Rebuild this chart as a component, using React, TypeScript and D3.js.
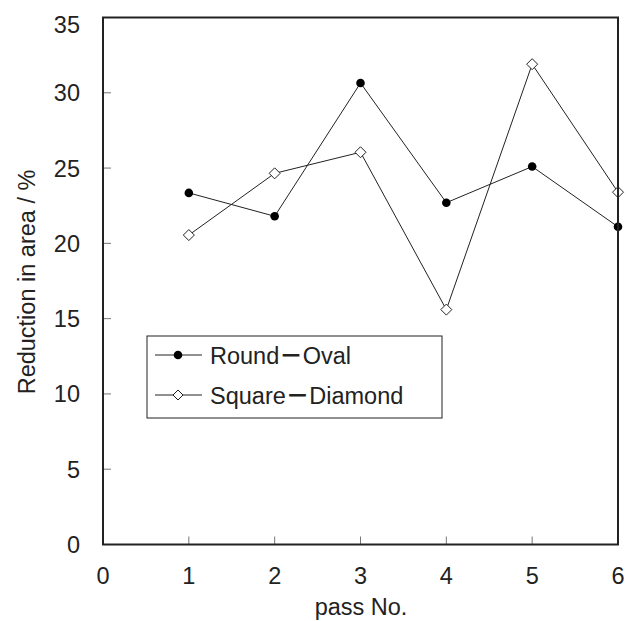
import React from 'react';
import * as d3 from 'd3';

// data
const passes = [1, 2, 3, 4, 5, 6];
const roundOval = [23.35, 21.8, 30.65, 22.7, 25.1, 21.1];
const squareDiamond = [20.55, 24.65, 26.05, 15.6, 31.9, 23.4];
const xTicks = [0, 1, 2, 3, 4, 5, 6];
const yTicks = [0, 5, 10, 15, 20, 25, 30, 35];
const seriesNames = ['Round', 'Oval', 'Square', 'Diamond'];

const W = 628;
const H = 621;
const M = { left: 103, right: 618, top: 17.5, bottom: 544.5 };
const FONT = '"Liberation Sans", Arial, sans-serif';
const FS = 23.5;

const Txt = ({ x, y, anchor = 'middle', rotate = 0, children }) => (
  <text
    transform={`translate(${x},${y}) rotate(${rotate})`}
    textAnchor={anchor}
    fontFamily={FONT}
    fontSize={FS}
    fill="#222"
  >
    {children}
  </text>
);

const Diamond = ({ cx, cy, r = 5.5 }) => (
  <path
    d={`M${cx},${cy - r}L${cx + r},${cy}L${cx},${cy + r}L${cx - r},${cy}Z`}
    fill="#fff"
    stroke="#222"
    strokeWidth={1}
  />
);

const Dash = () => (
  <tspan fontFamily='"Noto Sans CJK JP", sans-serif' fontWeight={700}>
    －
  </tspan>
);

const App = () => {
  const x = d3.scaleLinear().domain([0, 6]).range([M.left, M.right]);
  const y = d3.scaleLinear().domain([0, 35]).range([M.bottom, M.top]);

  const line = d3
    .line<number>()
    .x((d, i) => x(passes[i]))
    .y((d) => y(d));

  return (
    <svg
      width={W}
      height={H}
      style={{ position: 'absolute', left: 0, top: 0, background: '#fff' }}
    >
      {/* ticks, pointing in */}
      {yTicks.slice(1, -1).map((t) => (
        <line key={'yt' + t} x1={M.left} x2={M.left + 8} y1={y(t)} y2={y(t)} stroke="#777" strokeWidth={1} />
      ))}
      {xTicks.slice(1, -1).map((t) => (
        <line key={'xt' + t} x1={x(t)} x2={x(t)} y1={M.bottom} y2={M.bottom - 8} stroke="#777" strokeWidth={1} />
      ))}

      {/* lines */}
      <path d={line(roundOval)} fill="none" stroke="#222" strokeWidth={1} />
      <path d={line(squareDiamond)} fill="none" stroke="#222" strokeWidth={1} />

      {roundOval.map((v, i) => (
        <circle key={'r' + i} cx={x(passes[i])} cy={y(v)} r={4.3} fill="#000" />
      ))}
      {squareDiamond.map((v, i) => (
        <Diamond key={'s' + i} cx={x(passes[i])} cy={y(v)} />
      ))}

      {/* frame */}
      <rect
        x={M.left}
        y={M.top}
        width={M.right - M.left}
        height={M.bottom - M.top}
        fill="none"
        stroke="#222"
        strokeWidth={2}
      />

      {/* tick labels */}
      {yTicks.map((t) => {
        const cy = Math.min(Math.max(y(t), 24), 549);
        return (
          <Txt key={'yl' + t} x={80} y={cy + 8.5} anchor="end">
            {t}
          </Txt>
        );
      })}
      {xTicks.map((t) => (
        <Txt key={'xl' + t} x={x(t)} y={584}>
          {t}
        </Txt>
      ))}

      <Txt x={361} y={615}>pass No.</Txt>
      <Txt x={35} y={282} rotate={-90}>Reduction in area / %</Txt>

      {/* legend */}
      <rect x={147} y={336} width={295} height={82} fill="#fff" stroke="#222" strokeWidth={1} />
      <line x1={155} x2={202} y1={355} y2={355} stroke="#222" strokeWidth={1} />
      <circle cx={178} cy={355} r={4.3} fill="#000" />
      <Txt x={210} y={364} anchor="start">
        {seriesNames[0]}
        <Dash />
        {seriesNames[1]}
      </Txt>
      <line x1={155} x2={202} y1={395} y2={395} stroke="#222" strokeWidth={1} />
      <Diamond cx={178} cy={395} r={5} />
      <Txt x={210} y={404} anchor="start">
        {seriesNames[2]}
        <Dash />
        {seriesNames[3]}
      </Txt>
    </svg>
  );
};

export default App;
